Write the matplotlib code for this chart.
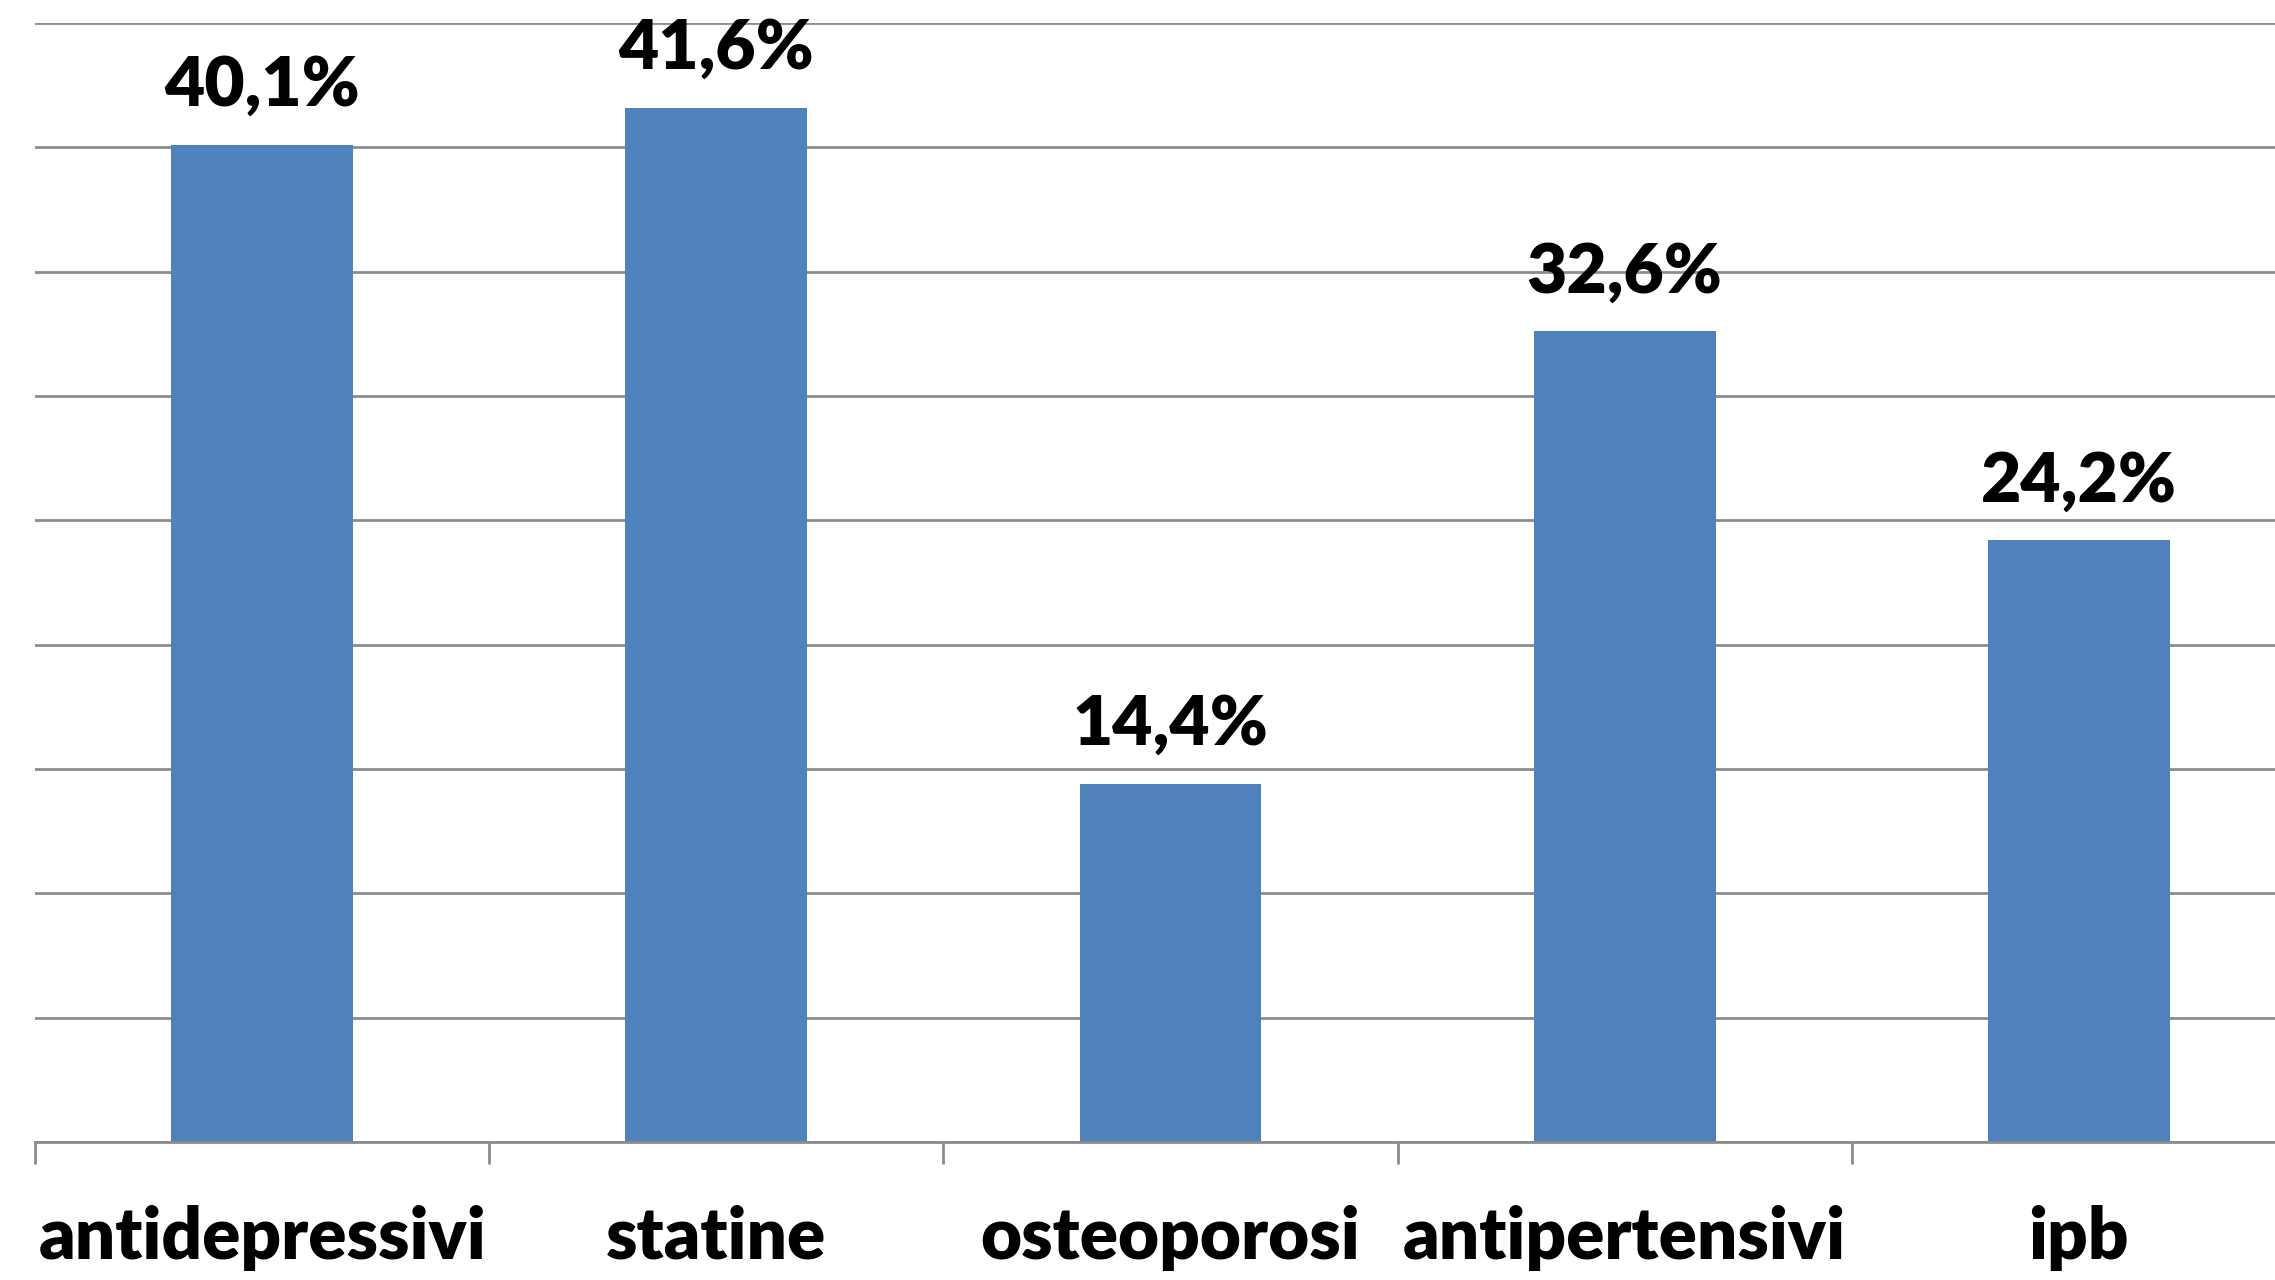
import numpy as np
import matplotlib
matplotlib.use("Agg")
import matplotlib.pyplot as plt

# data
categories = ["antidepressivi", "statine", "osteoporosi", "antipertensivi", "ipb"]
values = [40.1, 41.6, 14.4, 32.6, 24.2]
labels = ["40,1%", "41,6%", "14,4%", "32,6%", "24,2%"]

plt.rcParams['font.family'] = ['Lato', 'DejaVu Sans']

fig = plt.figure(figsize=(22.75, 12.8), dpi=100)
ax = fig.add_axes([0.0154, 0.1078, 0.9982, 0.8742])

x = np.arange(len(categories))
ax.bar(x, values, width=0.4, color="#4F81BD", zorder=3)

for xi, v, lab in zip(x, values, labels):
    ax.annotate(lab, (xi, v), xytext=(0, 28), textcoords="offset points",
                ha="center", va="baseline", fontsize=50, fontweight="heavy",
                color="black")

ax.set_xlim(-0.5, 4.5)
ax.set_ylim(0, 45)
ax.set_yticks(np.arange(0, 46, 5))
ax.yaxis.grid(True, color="#8c8c8c", linewidth=2, zorder=0)
ax.tick_params(axis="y", left=False, labelleft=False)

# tick marks between categories, labels under centres
ax.set_xticks(np.arange(-0.5, 4.6, 1.0))
ax.set_xticklabels([])
ax.tick_params(axis="x", which="major", length=16, width=2, color="#8c8c8c", direction="out")
ax.set_xticks(x, minor=True)
ax.set_xticklabels(categories, minor=True, fontsize=51, fontweight="heavy")
ax.tick_params(axis="x", which="minor", length=0, pad=45)

for s in ["left", "right", "top"]:
    ax.spines[s].set_visible(False)
ax.spines["bottom"].set_color("#8c8c8c")
ax.spines["bottom"].set_linewidth(2)
ax.spines["bottom"].set_zorder(4)

fig.savefig("out.png", dpi=100)
